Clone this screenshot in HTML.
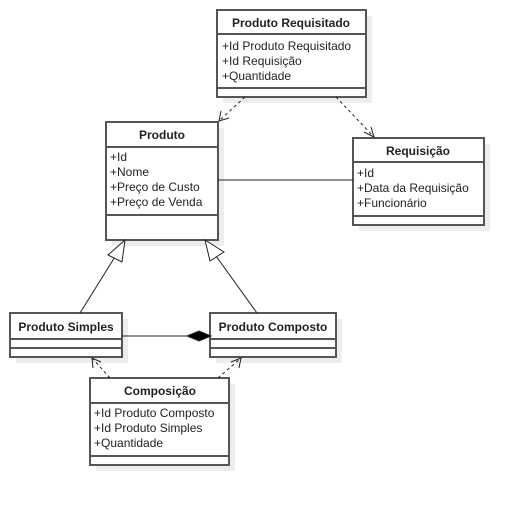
<!DOCTYPE html>
<html><head><meta charset="utf-8"><style>
html,body{margin:0;padding:0;background:#fff;width:524px;height:505px;overflow:hidden}
svg text{font-family:"Liberation Sans",Arial,sans-serif;font-size:12px;fill:#222}
.t{font-weight:bold;text-anchor:middle}
</style></head><body>
<svg width="524" height="505" viewBox="0 0 524 505" xmlns="http://www.w3.org/2000/svg">
<g fill="#ededed">
<rect x="223" y="16" width="149" height="87"/>
<rect x="112" y="128" width="112" height="118"/>
<rect x="359" y="144" width="131" height="87"/>
<rect x="16" y="319" width="112" height="44"/>
<rect x="216" y="319" width="126" height="44"/>
<rect x="96" y="384" width="139" height="87"/>
</g>
<g fill="#fff" stroke="#555" stroke-width="2">
<rect x="217" y="10" width="149" height="87"/>
<rect x="106" y="122" width="112" height="118"/>
<rect x="353" y="138" width="131" height="87"/>
<rect x="10" y="313" width="112" height="44"/>
<rect x="210" y="313" width="126" height="44"/>
<rect x="90" y="378" width="139" height="87"/>
</g>
<g stroke="#555" stroke-width="2">
<line x1="217" y1="34" x2="366" y2="34"/><line x1="217" y1="88" x2="366" y2="88"/>
<line x1="106" y1="147" x2="218" y2="147"/><line x1="106" y1="215" x2="218" y2="215"/>
<line x1="353" y1="162" x2="484" y2="162"/><line x1="353" y1="216" x2="484" y2="216"/>
<line x1="10" y1="339" x2="122" y2="339"/><line x1="10" y1="348" x2="122" y2="348"/>
<line x1="210" y1="339" x2="336" y2="339"/><line x1="210" y1="348" x2="336" y2="348"/>
<line x1="90" y1="403" x2="229" y2="403"/><line x1="90" y1="456" x2="229" y2="456"/>
</g>
<text class="t" x="291" y="27">Produto Requisitado</text>
<text x="222" y="50">+Id Produto Requisitado</text>
<text x="222" y="65">+Id Requisição</text>
<text x="222" y="80">+Quantidade</text>
<text class="t" x="162" y="139">Produto</text>
<text x="110" y="161">+Id</text>
<text x="110" y="176">+Nome</text>
<text x="110" y="191">+Preço de Custo</text>
<text x="110" y="206">+Preço de Venda</text>
<text class="t" x="418" y="155">Requisição</text>
<text x="357" y="177">+Id</text>
<text x="357" y="192">+Data da Requisição</text>
<text x="357" y="207">+Funcionário</text>
<text class="t" x="66" y="331">Produto Simples</text>
<text class="t" x="273" y="331">Produto Composto</text>
<text class="t" x="160" y="395">Composição</text>
<text x="94" y="417">+Id Produto Composto</text>
<text x="94" y="432">+Id Produto Simples</text>
<text x="94" y="447">+Quantidade</text>
<g stroke="#222" stroke-width="1" fill="none">
<line x1="218" y1="180" x2="353" y2="180"/>
<line x1="122" y1="336" x2="188" y2="336"/>
<polygon points="187,336 199,331 211,336 199,341" fill="#000"/>
<line x1="80" y1="313" x2="118" y2="252"/>
<polygon points="125,240 108,255 122,262" fill="#fff"/>
<line x1="257" y1="313" x2="216" y2="256"/>
<polygon points="205,240 224,252 210,261" fill="#fff"/>
<g stroke-dasharray="3,3">
<line x1="245" y1="97" x2="219" y2="121"/>
<line x1="336" y1="97" x2="374" y2="137"/>
<line x1="110" y1="378" x2="92" y2="358"/>
<line x1="218" y1="378" x2="241" y2="358"/>
</g>
<polyline points="221,111 219,121 229,118"/>
<polyline points="364,132 374,137 371,127"/>
<polyline points="93,368 92,358 101,362"/>
<polyline points="231,362 241,358 239,368"/>
</g>
</svg>
</body></html>
